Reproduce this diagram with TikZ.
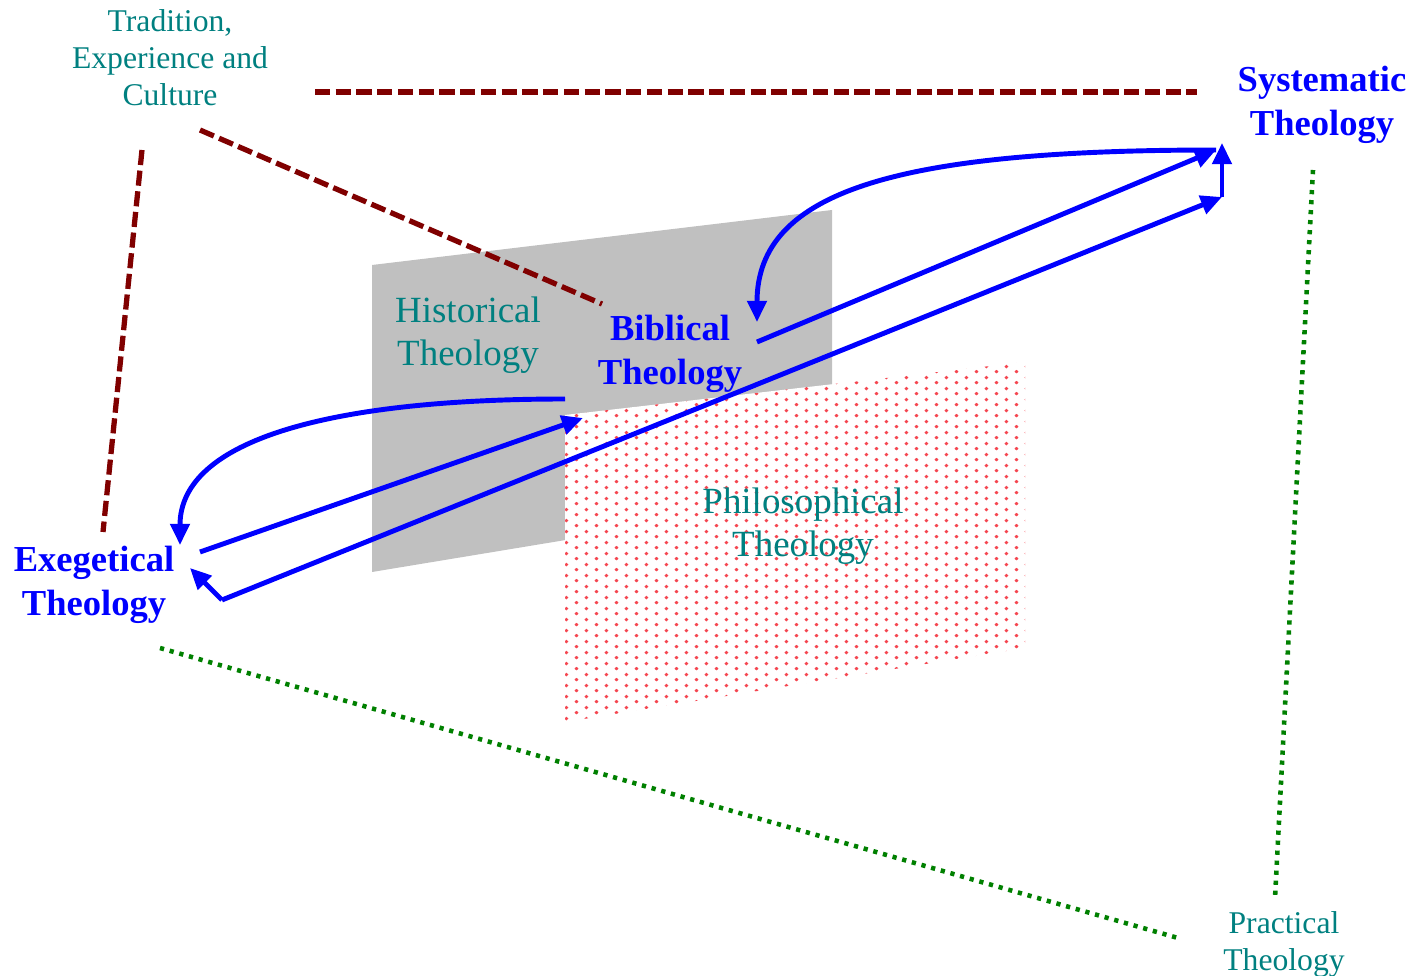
\documentclass[tikz,border=0pt]{standalone}
\usepackage{fontspec}
\setmainfont{Liberation Serif}
\usepackage{tikz}
\usetikzlibrary{arrows.meta,patterns}

\definecolor{thblue}{RGB}{0,0,255}
\definecolor{thteal}{RGB}{0,128,128}
\definecolor{thmaroon}{RGB}{128,0,0}
\definecolor{thgreen}{RGB}{0,128,0}
\definecolor{thgray}{RGB}{192,192,192}
\definecolor{thdot}{RGB}{245,70,80}

\pgfdeclarepatternformonly{reddots}{\pgfqpoint{-1pt}{-1pt}}{\pgfqpoint{4.66pt}{2pt}}{\pgfqpoint{5.66pt}{3pt}}{%
  \pgfpathcircle{\pgfqpoint{0pt}{0pt}}{0.55pt}%
  \pgfpathcircle{\pgfqpoint{2.83pt}{1.5pt}}{0.55pt}%
  \pgfusepath{fill}}

\tikzset{
  field/.style={align=center,text=thblue,font=\fontsize{10.4}{12.5}\selectfont\bfseries,inner sep=0pt},
  area/.style={align=center,text=thteal,font=\fontsize{10.5}{12.3}\selectfont,inner sep=0pt},
  small/.style={align=center,text=thteal,font=\fontsize{9}{10.5}\selectfont,inner sep=0pt},
  flow/.style={-{Triangle[length=6pt,width=5.4pt]},draw=thblue,line width=1.4pt},
  influence/.style={draw=thmaroon,line width=1.5pt,dash pattern=on 4.3pt off 1.6pt},
  application/.style={draw=thgreen,line width=1.3pt,dash pattern=on 1.2pt off 1.65pt}
}

\begin{document}
\begin{tikzpicture}[x=0.01cm,y=-0.01cm]
  \useasboundingbox (0,0) rectangle (1426,976);

  \fill[thgray] (372,265) -- (832,210) -- (832,496) -- (372,572) -- cycle;
  \fill[white] (565,415) -- (1025,362) -- (1025,648) -- (565,722) -- cycle;
  \fill[pattern=reddots,pattern color=thdot] (565,415) -- (1025,362) -- (1025,648) -- (565,722) -- cycle;

  \draw (170,58) node[small] (tradition) {Tradition,\\Experience and\\Culture};
  \draw (1322,105) node[field] (systematic) {Systematic\\Theology};
  \draw (468,335) node[area] (historical) {Historical\\Theology};
  \draw (670,354) node[field] (biblical) {Biblical\\Theology};
  \draw (803,526) node[area] (philosophical) {Philosophical\\Theology};
  \draw (94,585) node[field] (exegetical) {Exegetical\\Theology};
  \draw (1284,944) node[small] (practical) {Practical\\Theology};

  \coordinate (tr-right) at (315,92);
  \coordinate (sy-left) at (1197,92);
  \coordinate (tr-low) at (200,130);
  \coordinate (bi-up) at (602,304);
  \coordinate (tr-foot) at (142,150);
  \coordinate (ex-up) at (103,532);
  \coordinate (ex-down) at (160,648);
  \coordinate (pr-left) at (1178,938);
  \coordinate (sy-down) at (1313,170);
  \coordinate (pr-up) at (1275,898);

  \path[influence] (tr-right) edge (sy-left);
  \path[influence] (tr-low) edge (bi-up);
  \path[influence] (tr-foot) edge (ex-up);
  \path[application] (ex-down) edge (pr-left);
  \path[application] (sy-down) edge (pr-up);

  \coordinate (bi-west) at (565,399);
  \coordinate (ex-top) at (180,545);
  \coordinate (ex-east) at (200,552);
  \coordinate (bi-foot) at (583,418);
  \coordinate (ex-corner) at (222,600);
  \coordinate (ex-tip) at (190,568);
  \coordinate (sy-foot) at (1222,197);
  \coordinate (sy-tip) at (1222,143);
  \coordinate (bi-east) at (757,342);
  \coordinate (sy-west) at (1216,150);
  \coordinate (bi-top) at (757,322);

  \draw[flow] (bi-west) .. controls (330,399) and (180,440) .. (ex-top);
  \draw[flow] (ex-east) -- (bi-foot);
  \draw[flow] (ex-corner) -- (sy-foot);
  \draw[flow] (sy-foot) -- (sy-tip);
  \draw[flow] (ex-corner) -- (ex-tip);
  \draw[flow] (bi-east) -- (sy-west);
  \draw[flow] (sy-west) .. controls (900,150) and (757,190) .. (bi-top);
\end{tikzpicture}
\end{document}
